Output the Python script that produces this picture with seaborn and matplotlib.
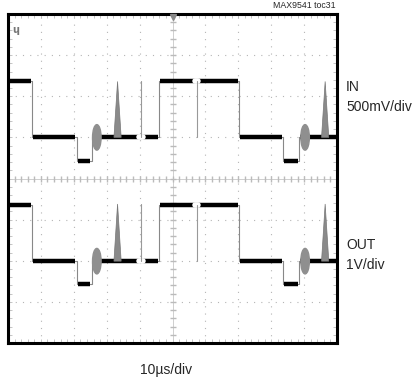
import numpy as np
import pandas as pd
import matplotlib
matplotlib.use('Agg')
import matplotlib.pyplot as plt
import seaborn as sns

# --- data (divisions: x 0..10, y -4..4) ---
seg_t = [0, 0.73, 2.09, 2.54, 4.59, 7.02, 8.36, 8.84, 10]
in_level = [2.38, 1.0, 0.42, 1.0, 2.38, 1.0, 0.42, 1.0]
out_level = [-0.64, -2.01, -2.57, -2.01, -0.64, -2.01, -2.57, -2.01]

spike_t = [3.33, 9.64]
in_spike_peak = 2.36
out_spike_peak = -0.62
up_glitch_t = [4.05]
down_glitch_t = [5.73]
blob_t = [2.7, 9.03]

trace_labels = [('IN', '500mV/div'), ('OUT', '1V/div')]
x_label = '10\u00b5s/div'
title_tag = 'MAX9541 toc31'

sns.set_theme(style='white')
plt.rcParams['font.family'] = ['Liberation Sans Narrow', 'Liberation Sans', 'DejaVu Sans']

fig = plt.figure(figsize=(4.17, 3.84), dpi=100)
ax = fig.add_axes([8 / 417, 41 / 384, 329 / 417, 329 / 384])
ax.set_xlim(0, 10)
ax.set_ylim(-4, 4)

# grid: dotted lines at each division, tick-marked centre cross
for gx in range(1, 10):
    if gx != 5:
        ax.axvline(gx, color='#b5b5b5', lw=0.8, ls=(0, (1, 5.5)), zorder=1)
for gy in range(-3, 4):
    if gy != 0:
        ax.axhline(gy, color='#b5b5b5', lw=0.8, ls=(0, (1, 5.5)), zorder=1)
ax.axvline(5, color='#c8c8c8', lw=0.6, zorder=1)
ax.axhline(0, color='#c8c8c8', lw=0.6, zorder=1)
minor_x = np.arange(0, 10.01, 0.2)
minor_y = np.arange(-4, 4.01, 0.2)
ax.plot(minor_x, np.zeros_like(minor_x), ls='none', marker='|', ms=4, color='#bbbbbb', zorder=1)
ax.plot(np.full_like(minor_y, 5), minor_y, ls='none', marker='_', ms=4, color='#bbbbbb', zorder=1)

ax.set_xticks(np.arange(0, 10.01, 0.2), minor=True)
ax.set_yticks(np.arange(-4, 4.01, 0.2), minor=True)
ax.set_xticks([])
ax.set_yticks([])
ax.tick_params(which='minor', direction='in', length=3, width=0.6, color='#bbbbbb',
               top=True, bottom=True, left=True, right=True,
               labelbottom=False, labelleft=False)
for s in ax.spines.values():
    s.set_linewidth(2.2)
    s.set_color('black')

# traces
def draw_trace(levels, peak):
    xs, ys = [], []
    for i, lv in enumerate(levels):
        xs += [seg_t[i], seg_t[i + 1]]
        ys += [lv, lv]
    df = pd.DataFrame({'t': xs, 'v': ys})
    sns.lineplot(data=df, x='t', y='v', sort=False, estimator=None, color='#888888',
                 lw=0.8, ax=ax, zorder=2)
    ax.hlines(levels, np.array(seg_t[:-1]) + 0.04, np.array(seg_t[1:]) - 0.04,
              color='black', lw=3.2, zorder=3)
    low = levels[1]
    high = levels[0]
    for t in spike_t:
        ax.fill([t - 0.11, t, t + 0.11], [low, peak, low], color='#8a8a8a', zorder=4, lw=0.5,
                edgecolor='#777777')
    for t in up_glitch_t:
        ax.plot([t - 0.06, t + 0.06], [low, low], color='white', lw=4, zorder=3.5)
        ax.plot([t, t], [low, peak], color='#999999', lw=0.8, zorder=4)
    for t in down_glitch_t:
        ax.plot([t - 0.04, t + 0.04], [high, high], color='white', lw=4, zorder=3.5)
        ax.plot([t, t], [high, low], color='#999999', lw=0.8, zorder=4)
    for t in blob_t:
        ell = matplotlib.patches.Ellipse((t, low), 0.26, 0.62, color='#8f8f8f', zorder=4)
        ax.add_patch(ell)

draw_trace(in_level, in_spike_peak)
draw_trace(out_level, out_spike_peak)

# trigger marker and channel marker
ax.plot([5], [3.93], marker='v', ms=5, color='#888888', clip_on=False, zorder=5)
ax.text(0.12, 3.62, '\u0265', fontsize=7, color='#777777', ha='left', va='center',
        fontweight='bold', family=['DejaVu Sans'])

# labels
fs = 10
fig.text(336 / 417, 1 - 6 / 384, title_tag, fontsize=6.3, ha='right', va='center')
fig.text(346 / 417, 1 - 87 / 384, trace_labels[0][0], fontsize=fs, ha='left', va='center')
fig.text(346 / 417, 1 - 107 / 384, trace_labels[0][1], fontsize=fs, ha='left', va='center')
fig.text(346 / 417, 1 - 245 / 384, trace_labels[1][0], fontsize=fs, ha='left', va='center')
fig.text(346 / 417, 1 - 265 / 384, trace_labels[1][1], fontsize=fs, ha='left', va='center')
fig.text(166 / 417, 1 - 370 / 384, x_label, fontsize=fs, ha='center', va='center')

fig.savefig('out.png', dpi=100)
